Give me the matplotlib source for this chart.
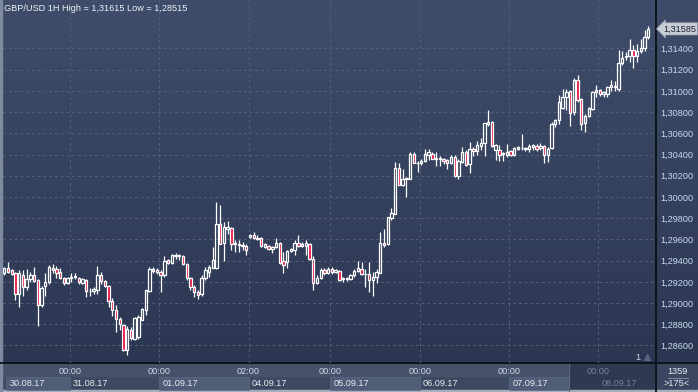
import numpy as np
import matplotlib.pyplot as plt
from matplotlib.patches import Rectangle
from matplotlib.colors import LinearSegmentedColormap
import matplotlib.transforms as mtransforms

plt.rcParams['font.family'] = ['Liberation Sans', 'DejaVu Sans']

# GBP/USD hourly candles, 30.08.17 06:00 .. 08.09.17 13:00
opens = [1.2928, 1.2933, 1.2931, 1.2928, 1.2909, 1.2926, 1.2915, 1.2923, 1.2926, 1.2922,
         1.2898, 1.2916, 1.2920, 1.2933, 1.2932, 1.2929, 1.2924, 1.2919, 1.2924, 1.2925,
         1.2924, 1.2919, 1.2922, 1.2911, 1.2911, 1.2912, 1.2926, 1.2921, 1.2916, 1.2902,
         1.2893, 1.2885, 1.2879, 1.2856, 1.2875, 1.2866, 1.2868, 1.2884, 1.2893, 1.2911,
         1.2932, 1.2931, 1.2929, 1.2926, 1.2941, 1.2938, 1.2944, 1.2945, 1.2944, 1.2937,
         1.2924, 1.2915, 1.2910, 1.2909, 1.2924, 1.2929, 1.2933, 1.2933, 1.2975, 1.2957,
         1.2970, 1.2971, 1.2956, 1.2956, 1.2955, 1.2954, 1.2962, 1.2964, 1.2961, 1.2961,
         1.2953, 1.2954, 1.2951, 1.2953, 1.2957, 1.2940, 1.2939, 1.2949, 1.2950, 1.2957,
         1.2954, 1.2954, 1.2956, 1.2942, 1.2919, 1.2924, 1.2931, 1.2928, 1.2932, 1.2929,
         1.2930, 1.2923, 1.2923, 1.2923, 1.2926, 1.2930, 1.2932, 1.2927, 1.2927, 1.2922,
         1.2925, 1.2928, 1.2957, 1.2956, 1.2980, 1.2984, 1.3027, 1.3011, 1.3017, 1.3017,
         1.3041, 1.3032, 1.3032, 1.3034, 1.3040, 1.3041, 1.3036, 1.3036, 1.3036, 1.3035,
         1.3032, 1.3038, 1.3020, 1.3033, 1.3042, 1.3031, 1.3045, 1.3043, 1.3048, 1.3051,
         1.3069, 1.3071, 1.3044, 1.3044, 1.3041, 1.3040, 1.3043, 1.3040, 1.3045, 1.3046,
         1.3046, 1.3045, 1.3047, 1.3048, 1.3046, 1.3048, 1.3040, 1.3046, 1.3069, 1.3073,
         1.3084, 1.3094, 1.3100, 1.3080, 1.3110, 1.3092, 1.3070, 1.3076, 1.3083, 1.3099,
         1.3101, 1.3097, 1.3097, 1.3104, 1.3105, 1.3102, 1.3126, 1.3132, 1.3133, 1.3139,
         1.3133, 1.3138, 1.3140, 1.3151]
highs = [1.2934, 1.2939, 1.2932, 1.2929, 1.2931, 1.2931, 1.2932, 1.2929, 1.2934, 1.2923,
         1.2916, 1.2928, 1.2936, 1.2937, 1.2935, 1.2933, 1.2925, 1.2925, 1.2928, 1.2928,
         1.2925, 1.2924, 1.2923, 1.2914, 1.2915, 1.2935, 1.2929, 1.2922, 1.2917, 1.2905,
         1.2898, 1.2887, 1.2880, 1.2878, 1.2877, 1.2887, 1.2889, 1.2895, 1.2912, 1.2934,
         1.2934, 1.2933, 1.2931, 1.2944, 1.2942, 1.2946, 1.2947, 1.2946, 1.2945, 1.2938,
         1.2925, 1.2917, 1.2912, 1.2926, 1.2934, 1.2936, 1.2953, 1.2995, 1.2992, 1.2976,
         1.2977, 1.2972, 1.2959, 1.2959, 1.2958, 1.2956, 1.2965, 1.2967, 1.2964, 1.2962,
         1.2957, 1.2955, 1.2954, 1.2961, 1.2958, 1.2948, 1.2950, 1.2952, 1.2959, 1.2964,
         1.2958, 1.2959, 1.2957, 1.2944, 1.2926, 1.2933, 1.2933, 1.2934, 1.2934, 1.2932,
         1.2931, 1.2925, 1.2925, 1.2927, 1.2932, 1.2940, 1.2939, 1.2932, 1.2939, 1.2929,
         1.2932, 1.2967, 1.2970, 1.2981, 1.2990, 1.3033, 1.3032, 1.3026, 1.3019, 1.3042,
         1.3042, 1.3034, 1.3036, 1.3045, 1.3045, 1.3042, 1.3042, 1.3039, 1.3037, 1.3036,
         1.3040, 1.3040, 1.3036, 1.3047, 1.3044, 1.3052, 1.3047, 1.3053, 1.3056, 1.3070,
         1.3082, 1.3072, 1.3050, 1.3049, 1.3042, 1.3050, 1.3044, 1.3047, 1.3048, 1.3059,
         1.3047, 1.3050, 1.3050, 1.3050, 1.3051, 1.3049, 1.3047, 1.3071, 1.3074, 1.3096,
         1.3102, 1.3102, 1.3101, 1.3112, 1.3115, 1.3093, 1.3078, 1.3085, 1.3100, 1.3106,
         1.3102, 1.3100, 1.3105, 1.3110, 1.3109, 1.3139, 1.3138, 1.3137, 1.3149, 1.3143,
         1.3144, 1.3149, 1.3157, 1.31615]
lows = [1.2926, 1.2928, 1.2926, 1.2903, 1.2896, 1.2907, 1.2912, 1.2920, 1.2920, 1.2878,
        1.2896, 1.2907, 1.2918, 1.2928, 1.2924, 1.2923, 1.2917, 1.2918, 1.2920, 1.2923,
        1.2918, 1.2918, 1.2906, 1.2907, 1.2909, 1.2909, 1.2918, 1.2915, 1.2896, 1.2888,
        1.2873, 1.2875, 1.2855, 1.28515, 1.2865, 1.2865, 1.2866, 1.2884, 1.2889, 1.2910,
        1.2928, 1.2927, 1.2910, 1.2925, 1.2937, 1.2937, 1.2942, 1.2941, 1.2936, 1.2922,
        1.2912, 1.2906, 1.2904, 1.2907, 1.2922, 1.2925, 1.2933, 1.2932, 1.2956, 1.2940,
        1.2965, 1.2950, 1.2948, 1.2948, 1.2950, 1.2945, 1.2961, 1.2960, 1.2959, 1.2953,
        1.2952, 1.2950, 1.2947, 1.2952, 1.2937, 1.2928, 1.2933, 1.2948, 1.2945, 1.2953,
        1.2953, 1.2945, 1.2941, 1.2912, 1.2918, 1.2923, 1.2926, 1.2927, 1.2927, 1.2928,
        1.2921, 1.2920, 1.2921, 1.2922, 1.2925, 1.2929, 1.2926, 1.2915, 1.2910, 1.2907,
        1.2919, 1.2928, 1.2953, 1.2955, 1.2978, 1.2984, 1.3011, 1.3010, 1.3000, 1.3017,
        1.3032, 1.3024, 1.3030, 1.3033, 1.3035, 1.3036, 1.3029, 1.3029, 1.3031, 1.3026,
        1.3031, 1.3019, 1.3017, 1.3032, 1.3029, 1.3023, 1.3039, 1.3040, 1.3044, 1.3039,
        1.3067, 1.3047, 1.3035, 1.3034, 1.3034, 1.3038, 1.3039, 1.3039, 1.3044, 1.3044,
        1.3043, 1.3042, 1.3044, 1.3043, 1.3044, 1.3032, 1.3033, 1.3045, 1.3066, 1.3069,
        1.3083, 1.3082, 1.3067, 1.3077, 1.3090, 1.3063, 1.3061, 1.3075, 1.3082, 1.3094,
        1.3095, 1.3094, 1.3094, 1.3100, 1.3100, 1.3100, 1.3124, 1.3129, 1.3127, 1.3122,
        1.3127, 1.3136, 1.3138, 1.3149]
closes = [1.2933, 1.2929, 1.2927, 1.2909, 1.2928, 1.2915, 1.2923, 1.2926, 1.2921, 1.2898,
          1.2914, 1.2920, 1.2934, 1.2931, 1.2928, 1.2924, 1.2919, 1.2924, 1.2925, 1.2925,
          1.2920, 1.2923, 1.2911, 1.2911, 1.2913, 1.2926, 1.2921, 1.2916, 1.2902, 1.2893,
          1.2885, 1.2880, 1.2856, 1.2876, 1.2867, 1.2886, 1.2887, 1.2894, 1.2912, 1.2932,
          1.2930, 1.2929, 1.2926, 1.2940, 1.2938, 1.2945, 1.2945, 1.2944, 1.2937, 1.2924,
          1.2915, 1.2910, 1.2908, 1.2924, 1.2931, 1.2934, 1.2941, 1.2975, 1.2956, 1.2972,
          1.2972, 1.2956, 1.2957, 1.2955, 1.2954, 1.2950, 1.2964, 1.2961, 1.2960, 1.2954,
          1.2956, 1.2951, 1.2953, 1.2957, 1.2938, 1.2936, 1.2949, 1.2951, 1.2957, 1.2954,
          1.2956, 1.2957, 1.2942, 1.2919, 1.2924, 1.2931, 1.2928, 1.2932, 1.2929, 1.2931,
          1.2922, 1.2923, 1.2924, 1.2926, 1.2930, 1.2933, 1.2927, 1.2927, 1.2922, 1.2925,
          1.2929, 1.2957, 1.2955, 1.2981, 1.2985, 1.3027, 1.3011, 1.3017, 1.3018, 1.3041,
          1.3032, 1.3032, 1.3034, 1.3041, 1.3042, 1.3036, 1.3037, 1.3036, 1.3034, 1.3032,
          1.3038, 1.3020, 1.3034, 1.3042, 1.3030, 1.3045, 1.3043, 1.3049, 1.3051, 1.3070,
          1.3071, 1.3048, 1.3049, 1.3040, 1.3041, 1.3042, 1.3040, 1.3046, 1.3047, 1.3046,
          1.3045, 1.3048, 1.3049, 1.3045, 1.3048, 1.3040, 1.3045, 1.3069, 1.3073, 1.3090,
          1.3094, 1.3099, 1.3079, 1.3110, 1.3091, 1.3069, 1.3076, 1.3084, 1.3099, 1.3101,
          1.3097, 1.3099, 1.3104, 1.3106, 1.3104, 1.3126, 1.3131, 1.3133, 1.3139, 1.3133,
          1.3138, 1.3140, 1.3151, 1.31585]

# first candle of each day (index) and the axis labels
day_starts = [18, 42, 66, 88, 112, 136, 160]
time_labels = ['00:00', '00:00', '02:00', '00:00', '00:00', '00:00', '00:00']
date_labels = ['30.08.17', '31.08.17', '01.09.17', '04.09.17', '05.09.17',
               '06.09.17', '07.09.17', '08.09.17']
price_ticks = [1.286, 1.288, 1.290, 1.292, 1.294, 1.296, 1.298, 1.300,
               1.302, 1.304, 1.306, 1.308, 1.310, 1.312, 1.314]
visible_bars = '>175<'
bar_total = '1359'

W, H = 698, 392
RED = '#e5123f'
TXT = '#c9d9ef'
GRID = '#52607a'

def fmt(p):
    return '{:.5f}'.format(p).replace('.', ',')

fig = plt.figure(figsize=(W / 100, H / 100), dpi=100)

# background and frame, in pixel coordinates
bg = fig.add_axes([0, 0, 1, 1], zorder=0)
grad = np.linspace(0, 1, 256)[:, None]
cmap = LinearSegmentedColormap.from_list('bg', ['#3f4d6a', '#2a3550'])
bg.imshow(grad, aspect='auto', cmap=cmap, extent=[0, W, H, 0])
bg.add_patch(Rectangle((0, 363), 655, 29, color='#3d4961'))
bg.add_patch(Rectangle((0, 364), 655, 11.5, color='#46526b'))
bg.add_patch(Rectangle((569, 364), 86, 28, color='#2f3a52'))
bg.plot([569, 569], [364, 392], color='#5d6980', lw=0.8)
bg.add_patch(Rectangle((655, 363), 43, 29, color='#3b4760'))
bg.plot([668, 688], [377.5, 377.5], color='#8a96aa', lw=0.6)
bg.text(677, 371, bar_total, color='#e6ecf5', fontsize=6.6, ha='center', va='center')
bg.text(677, 383.5, visible_bars, color='#e6ecf5', fontsize=6.6, ha='center', va='center')
bg.plot([0, W], [363.2, 363.2], color='#0b1018', lw=1.3)
bg.plot([655.5, 655.5], [0, H], color='#0b1018', lw=1.3)
bg.add_patch(Rectangle((0, 390), W, 2, color='#a4aebd'))
bg.add_patch(Rectangle((0, 0), 2, H, color='#7e8aa0'))
bg.set_xlim(0, W)
bg.set_ylim(H, 0)
bg.axis('off')

# main candle area
ax = fig.add_axes([3 / W, 29 / H, 652 / W, 363 / H], zorder=1)
ax.set_facecolor('none')
xlim = (-0.35, 174.8)
ax.set_xlim(*xlim)
ax.set_ylim(1.28435, 1.318572)

idx = np.arange(len(closes))
o = np.array(opens)
h = np.array(highs)
l = np.array(lows)
c = np.array(closes)
top = np.maximum(o, c)
bot = np.minimum(o, c)
ax.vlines(idx, top, h, color='white', lw=0.9, zorder=3)
ax.vlines(idx, l, bot, color='white', lw=0.9, zorder=3)
fills = [RED if cc < oo else 'none' for oo, cc in zip(o, c)]
ax.bar(idx, np.maximum(top - bot, 0.00004), bottom=bot, width=0.64,
       color=fills, edgecolor='white', linewidth=0.9, zorder=4)

grid_x = [d - 0.4 for d in day_starts]
for gx in grid_x:
    ax.axvline(gx, color=GRID, lw=0.75, ls=(0, (2.5, 3)), zorder=1)
for p in price_ticks:
    ax.axhline(p, color=GRID, lw=0.75, ls=(0, (2.5, 3)), zorder=1)

ax.set_xticks([])
ax.set_yticks(price_ticks)
ax.set_yticklabels([fmt(p) for p in price_ticks])
ax.yaxis.tick_right()
ax.tick_params(axis='y', length=0, pad=4, labelsize=6.6, labelcolor=TXT)
for s in ax.spines.values():
    s.set_visible(False)

# current price marker
trans = mtransforms.blended_transform_factory(ax.transAxes, ax.transData)
ax.text(1.0 + 8 / 652, closes[-1], fmt(closes[-1]), transform=trans, fontsize=6.6,
        color='#1c2333', ha='left', va='center', clip_on=False, zorder=6,
        bbox=dict(boxstyle='larrow,pad=0.18', fc='#c7ccd5', ec='#8d95a3', lw=0.5))

ax.text(635 / 652, 6 / 363, '1', transform=ax.transAxes, fontsize=6.6, color=TXT,
        ha='center', va='center')
ax.plot([644 / 652], [6 / 363], marker='^', ms=4, color='#56647e',
        transform=ax.transAxes, clip_on=False)

# header
fig.text(4 / W, 1 - 8.5 / H,
         'GBP/USD 1H High = {} Low = {}'.format(fmt(max(highs)), fmt(min(lows))),
         fontsize=6.6, color='#eef2f8', ha='left', va='center', zorder=10)

# time axis
tax = fig.add_axes([3 / W, 0, 652 / W, 28 / H], zorder=2)
tax.set_xlim(*xlim)
tax.set_ylim(28, 0)
tax.axis('off')
overlay_x = 151.7
bounds = [xlim[0] + 0.8] + grid_x + [overlay_x]
for k in range(len(date_labels) - 1):
    if k % 2 == 0:
        x0, x1 = bounds[k], min(bounds[k + 1], overlay_x)
        tax.add_patch(Rectangle((x0, 12.8), x1 - x0, 13.6, fc='#505d76',
                                ec='#5e6b84', lw=0.5))
for k, gx in enumerate(grid_x):
    dim = gx > overlay_x
    col = '#75829a' if dim else '#d0d8e4'
    tax.text(gx, 7, time_labels[k], color=col, fontsize=6.6, ha='center', va='center')
for k, lab in enumerate(date_labels):
    x0 = bounds[k] + 0.9
    col = '#75829a' if x0 > overlay_x else '#e4e9f1'
    tax.text(x0, 19.5, lab, color=col, fontsize=6.6, ha='left', va='center')

fig.savefig('out.png', dpi=100)
